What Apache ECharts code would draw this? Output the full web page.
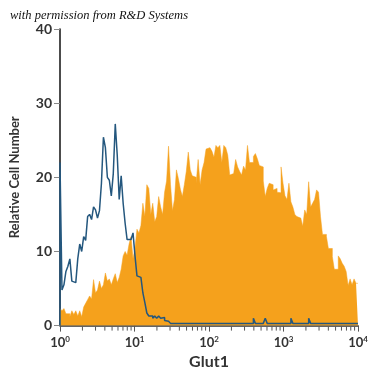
<!DOCTYPE html>
<html><head><meta charset="utf-8">
<script src="https://cdn.jsdelivr.net/npm/echarts@6/dist/echarts.min.js"></script>
<style>html,body{margin:0;padding:0;background:#fff}#c{width:375px;height:375px}</style>
</head><body><div id="c"></div>
<script>
const titleText = 'with permission from R&D Systems';
const xAxisTitle = 'Glut1';
const yAxisTitle = 'Relative Cell Number';
const xTickExponents = [0, 1, 2, 3, 4];
const yTickValues = [0, 10, 20, 30, 40];
const decades = 4;
// Glut1-stained cells (orange filled histogram), one value per bin
const glut1Counts = [
 2.3,2.0,2.3,1.6,1.6,1.2,2.0,1.5,2.0,1.3,2.0,1.2,2.5,3.0,3.5,4.0,3.6,6.2,4.4,4.8,
 6.0,5.0,5.5,7.1,6.0,6.3,5.5,6.3,7.0,5.8,6.5,7.6,9.4,10.0,9.5,11.0,12.0,9.0,10.5,13.0,
 12.5,13.5,16.5,14.7,19.0,18.5,15.0,16.5,14.0,14.7,17.4,16.0,15.0,18.0,19.5,24.2,19.0,15.5,17.0,21.0,
 19.8,18.4,17.4,19.0,20.8,23.4,21.0,20.2,20.0,19.2,22.4,19.0,21.0,22.0,23.8,24.0,24.2,23.5,22.7,24.3,
 24.0,24.3,22.0,24.3,24.0,23.0,20.3,20.5,20.3,22.4,21.4,20.8,20.3,21.5,21.0,24.3,22.0,22.0,22.8,23.2,
 22.5,21.6,21.4,19.5,17.4,18.5,19.2,19.0,18.3,18.5,18.0,17.9,21.4,19.2,17.5,17.0,19.2,16.7,16.0,15.0,
 14.7,14.5,14.3,13.4,15.6,15.0,19.4,16.0,16.5,17.0,18.3,18.0,14.7,12.3,12.3,12.0,10.4,10.4,9.3,7.6,
 7.6,9.4,9.0,8.4,8.0,7.3,5.4,6.3,5.5,6.3,5.7
];
// Isotype control (blue outline), one value per bin
const isotypeCounts = [
 22.0,4.8,5.5,7.3,8.0,9.0,6.0,5.8,5.8,9.0,11.0,10.0,12.0,11.5,14.7,15.0,14.3,16.0,15.6,14.5,
 15.5,19.2,25.4,24.0,20.0,19.6,17.5,20.5,27.2,23.0,17.0,20.2,16.5,13.8,11.6,11.6,11.6,12.5,9.4,6.7,
 6.5,6.3,4.4,3.1,1.7,1.3,1.3,1.0,1.3,1.0,1.3,1.0,1.1,0.7,0.6,0.4,0.3,0.3,0.3,0.3,
 0.3,0.3,0.3,0.3,0.3,0.3,0.3,0.3,0.3,0.3,0.3,0.3,0.3,0.3,0.3,0.3,0.3,0.3,0.3,0.3,
 0.3,0.3,0.3,0.3,0.3,0.3,0.3,0.3,0.3,0.3,0.3,0.3,0.3,0.3,0.3,0.3,0.3,0.3,1.0,0.3,
 0.3,0.3,0.3,0.3,1.0,0.3,0.3,0.3,0.3,0.3,0.3,0.3,0.3,0.3,0.3,0.3,0.3,1.0,0.3,0.3,
 0.3,0.3,0.3,0.3,0.3,0.3,1.0,0.3,0.3,0.3,0.3,0.3,0.3,0.3,0.3,0.3,0.3,0.3,0.3,0.3,
 0.3,0.3,0.3,0.3,0.3,0.3,0.3,0.3,0.3,0.3,0.3
];
const minorTickMultipliers = [2, 3, 4, 5, 6, 7, 8, 9];

function toSteps(counts, startFromZero) {
  const w = decades / counts.length;
  const pts = [];
  if (startFromZero) pts.push([0, 0]);
  counts.forEach((v, i) => pts.push([i * w, v]));
  pts.push([decades, counts[counts.length - 1]]);
  return pts;
}
const minorTickData = [];
for (let d = 0; d < decades; d++) minorTickMultipliers.forEach(m => minorTickData.push([d + Math.log10(m), 0]));

const axisFont = "Lato,'Liberation Sans Narrow',sans-serif";
const chart = echarts.init(document.getElementById('c'), null, {renderer: 'canvas'});
chart.setOption({
  animation: false,
  backgroundColor: '#fff',
  title: {
    text: titleText, left: 10, top: 9, padding: 0,
    textStyle: {fontFamily: "'Liberation Serif','DejaVu Serif',serif", fontStyle: 'italic', fontWeight: 'normal', fontSize: 12.5, color: '#111'}
  },
  grid: {left: 56, right: 17, top: 29, bottom: 47, containLabel: false},
  xAxis: {
    type: 'value', min: 0, max: decades, interval: 1,
    name: xAxisTitle, nameLocation: 'middle', nameGap: 28,
    nameTextStyle: {fontFamily: axisFont, fontWeight: 'bold', fontSize: 16, color: '#333'},
    axisLine: {show: true, onZero: false, lineStyle: {color: '#333', width: 1.5}},
    axisTick: {show: true, length: 6, lineStyle: {color: '#555', width: 1}},
    splitLine: {show: false},
    axisLabel: {
      margin: 10, color: '#333',
      formatter: v => xTickExponents.includes(v) ? '{b|10}{s|' + v + '}' : '',
      rich: {
        b: {fontFamily: axisFont, fontWeight: 'bold', fontSize: 13, color: '#333'},
        s: {fontFamily: axisFont, fontWeight: 'bold', fontSize: 8, color: '#333', padding: [0, 0, 6, 0]}
      }
    }
  },
  yAxis: {
    type: 'value', min: 0, max: 40, interval: 10,
    name: yAxisTitle, nameLocation: 'middle', nameGap: 39, nameRotate: 90,
    nameTextStyle: {fontFamily: axisFont, fontWeight: 'bold', fontSize: 13, color: '#333'},
    axisLine: {show: true, lineStyle: {color: '#111', width: 1.5}},
    axisTick: {show: true, length: 6, lineStyle: {color: '#888', width: 1}},
    splitLine: {show: false},
    axisLabel: {margin: 8, color: '#333', fontFamily: axisFont, fontWeight: 'bold', fontSize: 14,
      formatter: v => yTickValues.includes(v) ? String(v) : ''}
  },
  series: [
    {
      type: 'line', step: 'end', symbol: 'none', data: toSteps(glut1Counts, false),
      lineStyle: {width: 0.5, color: '#F5A11C'},
      areaStyle: {color: '#F5A11C', opacity: 1, origin: 'start'}, z: 2
    },
    {
      type: 'line', step: 'end', symbol: 'none', data: toSteps(isotypeCounts, true),
      lineStyle: {width: 1.5, color: '#24577e'}, z: 3
    },
    {
      type: 'custom', data: minorTickData, clip: false, z: 4,
      renderItem: (params, api) => {
        const p = api.coord([api.value(0), 0]);
        return {type: 'line', shape: {x1: p[0], y1: p[1] + 1, x2: p[0], y2: p[1] + 5}, style: {stroke: '#555', lineWidth: 1}};
      }
    }
  ]
});
</script></body></html>
